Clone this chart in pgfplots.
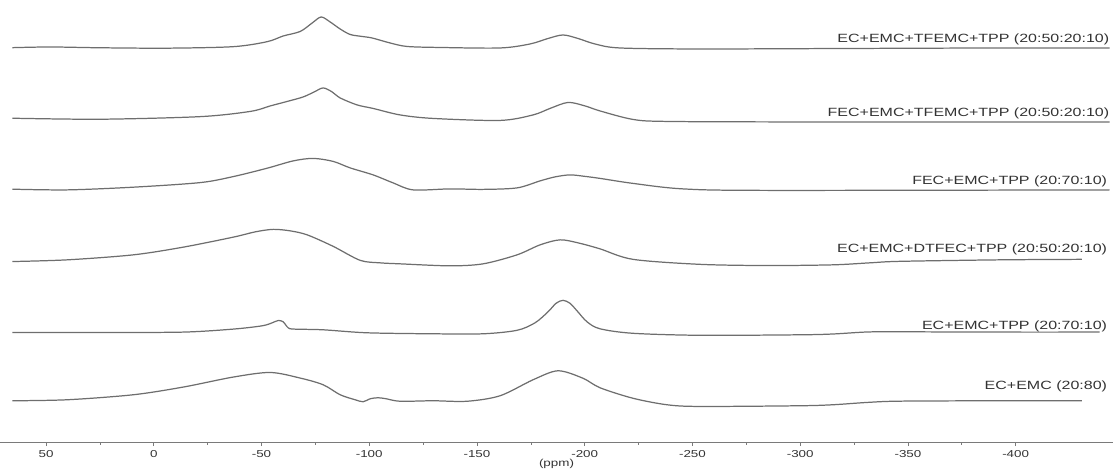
\documentclass[border=0pt]{standalone}
\usepackage{fontspec}
\setmainfont{Liberation Sans}
\usepackage{pgfplots}
\pgfplotsset{compat=1.18}

\definecolor{trace}{HTML}{6E6E6E}
\definecolor{axisgray}{HTML}{7A7A7A}
\definecolor{labelgray}{HTML}{333333}
% the reference fonts are stretched sideways
\newcommand{\wide}[1]{\scalebox{1.33}[1]{#1}}

\begin{document}
\begin{tikzpicture}
\begin{axis}[
    scale only axis,
    width=33.39cm, height=13.29cm,
    x dir=reverse,
    xmin=-445, xmax=71.2,
    ymin=25, ymax=468,
    axis x line*=bottom,
    axis y line=none,
    xtick={-400,-350,...,50},
    minor x tick num=1,
    tick align=outside,
    major tick length=0.1cm,
    minor tick length=0.06cm,
    axis line style={axisgray, line width=0.6pt},
    every tick/.style={axisgray, line width=0.6pt},
    xticklabel={\wide{\pgfmathprintnumber[assume math mode=true]{\tick}}},
    xticklabel style={font=\fontsize{8.6}{10}\selectfont, text=labelgray},
    xlabel={\wide{(ppm)}},
    xlabel style={at={(axis description cs:0.5,0)}, anchor=north, yshift=-0.38cm,
        font=\fontsize{8.6}{10}\selectfont, text=labelgray},
    clip=false,
    spec/.style={trace, line width=1.05pt, smooth, mark=none},
]
% EC+EMC+TFEMC+TPP
\addplot[spec] coordinates {
(65.63,420.3) (48.01,421) (24.81,420.2) (-6.26,419.8) (-36.87,421.3) (-52.64,426.3)
(-60.07,432) (-67.95,436.5) (-73.52,445) (-77.69,451) (-81.87,446) (-86.50,439)
(-91.14,433.5) (-96.71,431.5) (-101.34,430) (-109.69,425) (-117.58,421.5)
(-132.89,420.5) (-160.72,420) (-174.63,424) (-182.98,429.5) (-189.94,433)
(-196.89,429.5) (-204.78,424) (-216.37,420) (-253.48,419) (-323.05,419.5)
(-392.62,420) (-443.64,420)
};
% FEC+EMC+TFEMC+TPP
\addplot[spec] coordinates {
(65.63,349.7) (24.81,348.7) (-21.57,351.3) (-44.76,356.5) (-54.04,362) (-61.92,366.5)
(-69.34,371) (-74.44,376) (-78.62,380) (-82.79,376) (-86.50,370) (-94.39,363)
(-101.81,359.5) (-114.33,353) (-129.64,349.5) (-160.72,347.5) (-176.02,353)
(-183.90,359.5) (-192.25,365.5) (-200.14,362) (-207.10,357) (-222.40,348.5)
(-238.17,346.5) (-299.86,346) (-443.64,346)
};
% FEC+EMC+TPP
\addplot[spec] coordinates {
(65.63,278.7) (40.12,278) (9.51,280.7) (-21.57,285.3) (-36.87,291.3) (-52.64,299.7)
(-64.70,307) (-73.98,309.5) (-83.26,306.5) (-91.14,300) (-101.81,293) (-111.09,285)
(-120.36,278) (-137.52,279) (-152.83,278.5) (-168.60,280) (-179.27,287)
(-186.22,291) (-193.18,293) (-200.14,291.5) (-207.10,289.5) (-222.40,284.5)
(-245.59,279) (-284.55,277.5) (-443.64,278)
};
% EC+EMC+DTFEC+TPP
\addplot[spec] coordinates {
(65.63,206.3) (40.12,208) (9.51,213) (-13.68,220.7) (-36.87,230.7) (-47.08,236)
(-55.43,238.5) (-63.31,237) (-71.20,233) (-83.26,221.5) (-95.78,207.5) (-105.06,205)
(-114.33,204) (-137.52,202) (-152.83,204) (-168.60,213) (-179.27,223) (-188.54,228)
(-196.89,225) (-207.10,219) (-222.40,208.5) (-253.48,203.5) (-284.55,202.3)
(-315.17,203) (-332.33,205) (-346.24,206.5) (-392.62,208) (-430.66,208.5)
};
% EC+EMC+TPP
\addplot[spec] coordinates {
(65.63,135.3) (24.81,135.3) (-13.68,135.7) (-36.87,138.7) (-50.32,142) (-54.96,145)
(-57.75,147.3) (-60.07,146) (-62.38,140) (-65.17,138.7) (-78.62,138) (-99.03,135)
(-129.64,134) (-152.83,134) (-168.60,137.5) (-176.95,145) (-182.98,156)
(-186.69,164.5) (-189.94,167.5) (-193.18,164.5) (-196.43,157) (-201.07,146)
(-207.10,139) (-222.40,134.5) (-253.48,132.5) (-299.86,133) (-315.17,133.8)
(-330.94,135.8) (-346.24,136) (-392.62,135.7) (-439.01,135.7)
};
% EC+EMC
\addplot[spec] coordinates {
(65.63,67) (40.12,68) (9.51,73) (-13.68,80.7) (-36.87,90.7) (-54.04,95.3)
(-67.95,89.7) (-78.62,83) (-86.50,73) (-93.46,68) (-97.17,66) (-100.42,69)
(-104.13,70) (-107.84,69) (-114.33,66.5) (-129.64,67) (-145.41,66.5)
(-160.72,72) (-176.02,88) (-187.62,97) (-199.21,89.5) (-207.10,80)
(-222.40,69.5) (-238.17,63) (-253.48,61.3) (-299.86,62) (-315.17,63)
(-330.94,65.3) (-346.24,66.6) (-392.62,67) (-430.66,67)
};

\begin{scope}[every node/.style={anchor=east, inner sep=0pt, text=labelgray,
    font=\fontsize{10.2}{12}\selectfont}]
\node at (axis cs:-443.5,429) {\scalebox{1.34}[1]{EC+EMC+TFEMC+TPP (20:50:20:10)}};
\node at (axis cs:-443.5,355) {\scalebox{1.34}[1]{FEC+EMC+TFEMC+TPP (20:50:20:10)}};
\node at (axis cs:-442.5,286) {\scalebox{1.34}[1]{FEC+EMC+TPP (20:70:10)}};
\node at (axis cs:-442.5,218) {\scalebox{1.34}[1]{EC+EMC+DTFEC+TPP (20:50:20:10)}};
\node at (axis cs:-442.5,141) {\scalebox{1.34}[1]{EC+EMC+TPP (20:70:10)}};
\node at (axis cs:-442.5,81) {\scalebox{1.34}[1]{EC+EMC (20:80)}};
\end{scope}
% keep the empty top margin of the reference inside the picture
\path (rel axis cs:0,0) rectangle (rel axis cs:1,1);
\end{axis}
\end{tikzpicture}
\end{document}
